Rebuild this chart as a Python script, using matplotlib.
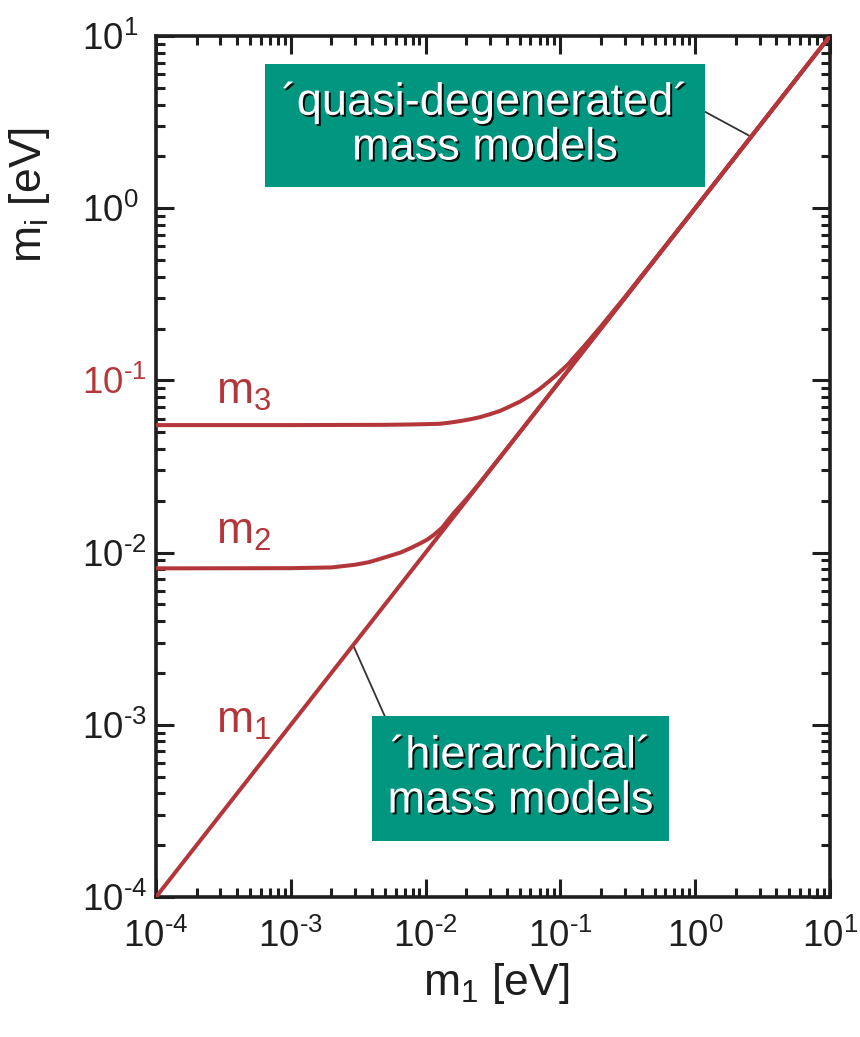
import matplotlib
matplotlib.use("Agg")
import matplotlib.pyplot as plt
import matplotlib.patheffects as pe
from matplotlib.patches import Rectangle
from matplotlib.ticker import NullFormatter

plt.rcParams["font.family"] = ["Liberation Sans", "DejaVu Sans"]
plt.rcParams["mathtext.fontset"] = "custom"
plt.rcParams["mathtext.rm"] = "Liberation Sans"
plt.rcParams["mathtext.it"] = "Liberation Sans:italic"
plt.rcParams["mathtext.bf"] = "Liberation Sans:bold"

# neutrino mass eigenvalues vs. lightest mass m1, all in eV
m1_x = [1e-4, 10.0]
m1_y = [1e-4, 10.0]

m2_x = [1e-4, 1e-3, 2e-3, 3e-3, 3.8e-3, 4.6e-3, 5.5e-3, 6.5e-3, 7.7e-3,
        9.1e-3, 1.03e-2, 1.14e-2, 1.32e-2, 1.6e-2, 2e-2, 2.5e-2, 5e-2,
        0.1, 1.0, 10.0]
m2_y = [0.0081, 0.00812, 0.0082, 0.0085, 0.0088, 0.0092, 0.0096, 0.0100,
        0.0106, 0.0113, 0.0119, 0.0126, 0.0139, 0.0168, 0.0204, 0.0252,
        0.0501, 0.1, 1.0, 10.0]

m3_x = [1e-4, 1e-3, 5e-3, 8e-3, 1e-2, 1.28e-2, 1.5e-2, 1.8e-2, 2.2e-2,
        2.54e-2, 3e-2, 3.57e-2, 4.2e-2, 5e-2, 6e-2, 7.06e-2, 8.2e-2,
        9.44e-2, 0.114, 0.13, 0.15, 0.2, 0.3, 1.0, 10.0]
m3_y = [0.0550, 0.0550, 0.0552, 0.0555, 0.0557, 0.0560, 0.0568, 0.0580,
        0.0597, 0.0612, 0.0636, 0.0665, 0.0705, 0.0752, 0.0820, 0.0895,
        0.0985, 0.1080, 0.1240, 0.1395, 0.1580, 0.2060, 0.3040, 1.0, 10.0]

decades = [1e-4, 1e-3, 1e-2, 1e-1, 1e0, 1e1]
decade_labels = [r"$10^{\text{-}4}$", r"$10^{\text{-}3}$", r"$10^{\text{-}2}$",
                 r"$10^{\text{-}1}$", r"$10^{0}$", r"$10^{1}$"]

# label anchors (m1 value, mass value)
curve_labels = ["m$_1$", "m$_2$", "m$_3$"]
curve_label_pos = [(2.8e-4, 9.0e-4), (2.8e-4, 0.0113), (2.8e-4, 0.073)]

RED = "#b3373a"
TEAL = "#009680"
INK = "#1e1e1e"

fig = plt.figure(figsize=(8.6, 10.37), dpi=100)
ax = fig.add_axes([0.1814, 0.1350, 0.7837, 0.8303])

ax.set_xscale("log")
ax.set_yscale("log")
ax.set_xlim(1e-4, 1e1)
ax.set_ylim(1e-4, 1e1)

for xs, ys in [(m1_x, m1_y), (m2_x, m2_y), (m3_x, m3_y)]:
    ax.plot(xs, ys, color=RED, lw=2.9, solid_capstyle="butt",
            solid_joinstyle="round", zorder=3)

for txt, (x, y) in zip(curve_labels, curve_label_pos):
    ax.text(x, y, txt, color=RED, fontsize=32, ha="left", va="baseline")

# frame and ticks
for sp in ax.spines.values():
    sp.set_linewidth(2.6)
    sp.set_color(INK)

ax.set_xticks(decades, labels=decade_labels)
ax.set_yticks(decades, labels=decade_labels)
ax.xaxis.set_minor_formatter(NullFormatter())
ax.yaxis.set_minor_formatter(NullFormatter())
ax.tick_params(which="both", direction="in", top=True, right=True,
               color=INK, width=2.2)
ax.tick_params(which="major", length=13)
ax.tick_params(which="minor", length=6.5)
ax.tick_params(axis="x", which="major", labelsize=26.5, pad=16, labelcolor=INK)
ax.tick_params(axis="y", which="major", labelsize=26.5, pad=53, labelcolor=INK)
for lab in ax.get_yticklabels():
    lab.set_horizontalalignment("left")
ax.get_yticklabels()[3].set_color(RED)

ax.set_xlabel("m$_1$ [eV]", fontsize=32, color=INK)
ax.set_ylabel(r"m$_\mathrm{i}$ [eV]", fontsize=32, color=INK)
ax.xaxis.set_label_coords(0.504, -0.074)
ax.yaxis.set_label_coords(-0.154, 0.8155)

# annotation boxes
shadow = [pe.SimplePatchShadow(offset=(1.4, -1.4), shadow_rgbFace="black",
                               alpha=0.9),
          pe.Normal()]

boxes = [
    ((0.1617, 0.8248), 0.6528, 0.1427, "\u00b4quasi-degenerated\u00b4\nmass models",
     (2.6, 2.6), (0.8145, 0.912)),
    ((0.3205, 0.0650), 0.4407, 0.1450, "\u00b4hierarchical\u00b4\nmass models",
     (0.0029, 0.0029), (0.340, 0.209)),
]
for (x0, y0), w, h, txt, tip, tail in boxes:
    ax.add_patch(Rectangle((x0, y0), w, h, transform=ax.transAxes,
                           facecolor=TEAL, edgecolor="none", zorder=4))
    ax.text(x0 + w / 2, y0 + h / 2, txt, transform=ax.transAxes,
            ha="center", va="center", fontsize=32.5, color="white",
            linespacing=1.12, zorder=5, path_effects=shadow)
    ax.annotate("", xy=tip, xycoords="data", xytext=tail,
                textcoords="axes fraction",
                arrowprops=dict(arrowstyle="-", color="#333333", lw=1.3,
                                shrinkA=0, shrinkB=0), zorder=2)

fig.savefig("out.png", dpi=100)
